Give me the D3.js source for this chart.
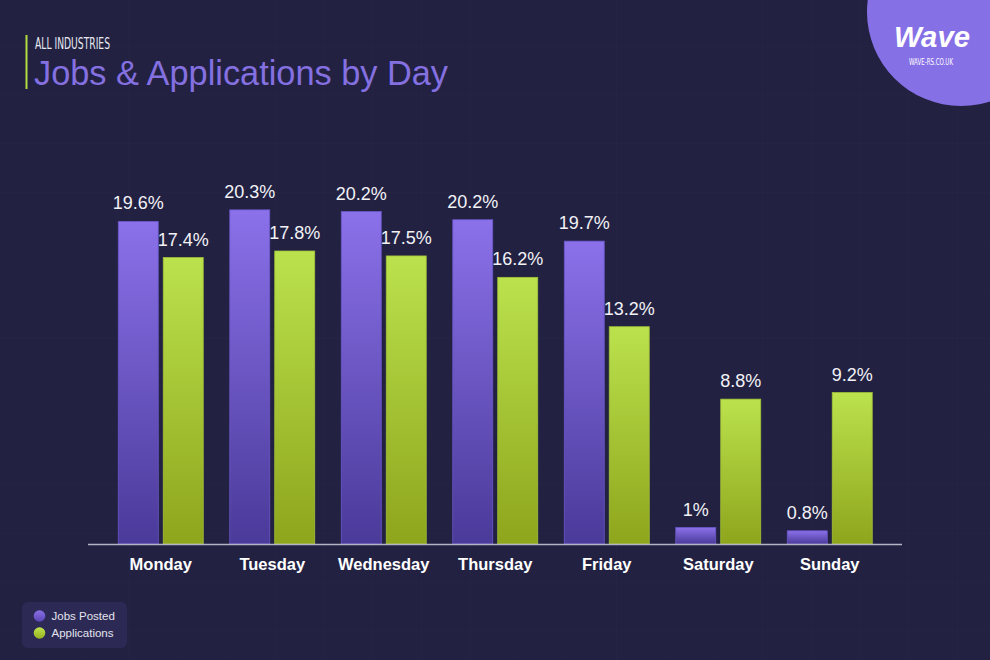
<!DOCTYPE html>
<html>
<head>
<meta charset="utf-8">
<script src="https://cdn.jsdelivr.net/npm/d3@7"></script>
<style>
  html, body { margin: 0; padding: 0; background: #222142; }
  svg { display: block; }
</style>
</head>
<body>
<div id="chart"></div>
<script>
// ---- data ----
const days = ["Monday", "Tuesday", "Wednesday", "Thursday", "Friday", "Saturday", "Sunday"];
const seriesNames = ["Jobs Posted", "Applications"];
// bar heights as drawn in the picture (%)
const jobsBars = [19.6, 20.3, 20.2, 19.7, 18.4, 1.0, 0.8];
const appsBars = [17.4, 17.8, 17.5, 16.2, 13.2, 8.8, 9.2];
// value labels as printed
const jobsLabels = ["19.6%", "20.3%", "20.2%", "20.2%", "19.7%", "1%", "0.8%"];
const appsLabels = ["17.4%", "17.8%", "17.5%", "16.2%", "13.2%", "8.8%", "9.2%"];

const W = 990, H = 660;
const svg = d3.select("#chart").append("svg").attr("width", W).attr("height", H);
const defs = svg.append("defs");

function grad(id, top, bottom) {
  const g = defs.append("linearGradient").attr("id", id)
    .attr("x1", 0).attr("y1", 0).attr("x2", 0).attr("y2", 1);
  g.append("stop").attr("offset", "0%").attr("stop-color", top);
  g.append("stop").attr("offset", "100%").attr("stop-color", bottom);
}
grad("gPurple", "#8b71ea", "#4a3a99");
grad("gGreen", "#bbe24d", "#8ea51c");
grad("gPurpleDot", "#8a70e8", "#5a45b5");
grad("gGreenDot", "#c0e54e", "#96b020");

// background
svg.append("rect").attr("width", W).attr("height", H).attr("fill", "#222142");

// faint grid
const gridStep = 48.7;
const gridG = svg.append("g").attr("stroke", "#ffffff").attr("stroke-opacity", 0.016).attr("stroke-width", 1);
gridG.selectAll("line.v").data(d3.range(32.1, W, gridStep)).join("line")
  .attr("x1", d => d).attr("x2", d => d).attr("y1", 0).attr("y2", H);
gridG.selectAll("line.h").data(d3.range(46.3 - gridStep, H, gridStep)).join("line")
  .attr("y1", d => d).attr("y2", d => d).attr("x1", 0).attr("x2", W);

// logo circle
svg.append("circle").attr("cx", 961).attr("cy", 12).attr("r", 94).attr("fill", "#8670e6");
svg.append("text").attr("x", 932).attr("y", 47).attr("text-anchor", "middle")
  .attr("font-family", "'Liberation Sans', Arial, sans-serif").attr("font-weight", "bold")
  .attr("font-style", "italic").attr("font-size", 30).attr("fill", "#ffffff")
  .attr("textLength", 76).attr("lengthAdjust", "spacingAndGlyphs")
  .text("Wave");
svg.append("text").attr("x", 931).attr("y", 65).attr("text-anchor", "middle")
  .attr("font-family", "'Liberation Sans Narrow', 'DejaVu Sans Condensed', sans-serif")
  .attr("font-size", 9.5).attr("fill", "#ffffff")
  .attr("textLength", 44).attr("lengthAdjust", "spacingAndGlyphs")
  .text("WAVE-RS.CO.UK");

// title block
svg.append("line").attr("x1", 26.5).attr("x2", 26.5).attr("y1", 35).attr("y2", 89)
  .attr("stroke", "#b3dd3c").attr("stroke-width", 2);
svg.append("text").attr("x", 35).attr("y", 49)
  .attr("font-family", "'Liberation Sans Narrow', 'DejaVu Sans Condensed', sans-serif")
  .attr("font-size", 15).attr("fill", "#e8e8f0")
  .attr("textLength", 75).attr("lengthAdjust", "spacingAndGlyphs")
  .text("ALL INDUSTRIES");
svg.append("text").attr("x", 34).attr("y", 84.5)
  .attr("font-family", "'Liberation Sans', Arial, sans-serif")
  .attr("font-size", 34.5).attr("fill", "#8470e0")
  .attr("textLength", 414).attr("lengthAdjust", "spacingAndGlyphs")
  .text("Jobs & Applications by Day");

// scales
const baseY = 544;
const x0 = d3.scaleBand().domain(days).range([105, 885.5]).paddingInner(0.238).paddingOuter(0.119);
const x1 = d3.scaleBand().domain(seriesNames).range([0, x0.bandwidth()]).paddingInner(0.111);
const y = d3.scaleLinear().domain([0, 25]).range([baseY, baseY - 25 * 16.46]);

const rows = days.map((d, i) => ({
  day: d,
  vals: [
    { s: seriesNames[0], v: jobsBars[i], label: jobsLabels[i], fill: "url(#gPurple)", stroke: "#6b57c9" },
    { s: seriesNames[1], v: appsBars[i], label: appsLabels[i], fill: "url(#gGreen)", stroke: "#a3c239" }
  ]
}));

const groups = svg.append("g").selectAll("g").data(rows).join("g")
  .attr("transform", d => `translate(${x0(d.day)},0)`);

groups.selectAll("rect").data(d => d.vals).join("rect")
  .attr("x", d => x1(d.s))
  .attr("y", d => y(d.v))
  .attr("width", x1.bandwidth())
  .attr("height", d => y(0) - y(d.v))
  .attr("fill", d => d.fill)
  .attr("stroke", d => d.stroke).attr("stroke-width", 0.8);

groups.selectAll("text.val").data(d => d.vals).join("text")
  .attr("class", "val")
  .attr("x", d => x1(d.s) + x1.bandwidth() / 2)
  .attr("y", d => y(d.v) - 12)
  .attr("text-anchor", "middle")
  .attr("font-family", "'Liberation Sans', Arial, sans-serif")
  .attr("font-size", 18).attr("fill", "#f2f2f6")
  .text(d => d.label);

// x axis
svg.append("line").attr("x1", 88).attr("x2", 902).attr("y1", baseY + 0.5).attr("y2", baseY + 0.5)
  .attr("stroke", "#b4b4c4").attr("stroke-width", 1.5);

const xAxis = d3.axisBottom(x0).tickSize(0).tickPadding(0);
const axG = svg.append("g").attr("transform", `translate(0,${baseY})`).call(xAxis);
axG.select(".domain").remove();
axG.selectAll("text")
  .attr("y", 26).attr("dy", 0)
  .attr("font-family", "'Liberation Sans', Arial, sans-serif")
  .attr("font-weight", "bold").attr("font-size", 16.5).attr("fill", "#ffffff");

// legend
const lg = svg.append("g");
lg.append("rect").attr("x", 22).attr("y", 602).attr("width", 105).attr("height", 46)
  .attr("rx", 6).attr("fill", "#2c2a55");
const legendItems = [
  { name: seriesNames[0], fill: "url(#gPurpleDot)" },
  { name: seriesNames[1], fill: "url(#gGreenDot)" }
];
const li = lg.selectAll("g").data(legendItems).join("g")
  .attr("transform", (d, i) => `translate(0,${616 + i * 17})`);
li.append("circle").attr("cx", 39.5).attr("cy", 0).attr("r", 5.8).attr("fill", d => d.fill);
li.append("text").attr("x", 51.5).attr("y", 4)
  .attr("font-family", "'Liberation Sans', Arial, sans-serif")
  .attr("font-size", 11.5).attr("fill", "#e4e4ee")
  .text(d => d.name);
</script>
</body>
</html>
